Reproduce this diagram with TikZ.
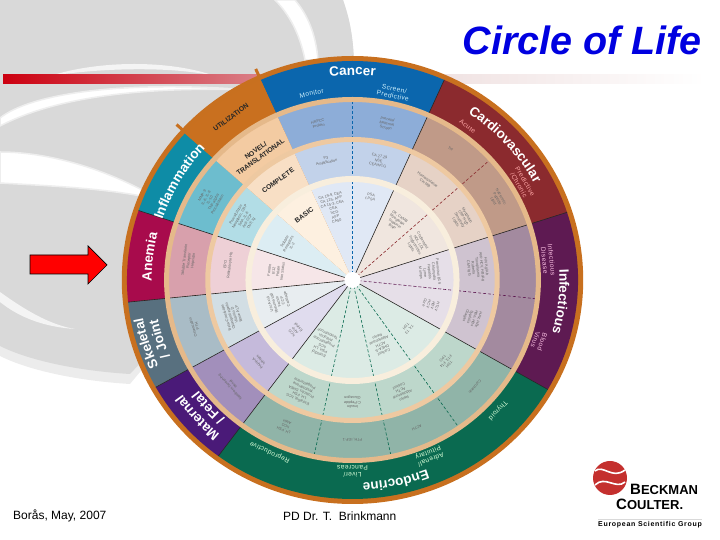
\documentclass[tikz,border=0pt]{standalone}
\usepackage{fontspec}
\setmainfont{Liberation Sans}
\usetikzlibrary{decorations.text}

% sector colours: band, outer ring, middle ring, inner ring
\newcommand{\lifeColors}[5]{%
    \definecolor{#1Band}{HTML}{#2}%
    \definecolor{#1Outer}{HTML}{#3}%
    \definecolor{#1Middle}{HTML}{#4}%
    \definecolor{#1Inner}{HTML}{#5}%
}
\lifeColors{cancer}{0B66AD}{8DADD8}{C2D2EA}{E0E8F5}
\lifeColors{cardio}{8B2A2E}{C09A88}{E6D2C6}{F0E6DF}
\lifeColors{infect}{5E1A52}{A38A9F}{CFC3D0}{E6DFE8}
\lifeColors{endo}{0A6A50}{90B4A8}{BDD7CB}{DCEBE5}
\lifeColors{fetal}{4A1A78}{A28FBB}{C5BADB}{E0DCEE}
\lifeColors{joint}{58707F}{A9BCC6}{D2DEE4}{E8EDF0}
\lifeColors{anemia}{A80B4C}{D8A0AC}{EED0D6}{F6E6E8}
\lifeColors{inflam}{0E8CA6}{6DBDCE}{B2DDE6}{DCEDF3}
\lifeColors{util}{C9701F}{F3CBA2}{F8DFC5}{FDF0E0}
\definecolor{lifeRimColor}{HTML}{C8701F}
\definecolor{lifeGreyColor}{HTML}{D9D9D9}
\definecolor{lifeBarLeft}{HTML}{CC0010}
\definecolor{lifeBarMid}{HTML}{DA8088}
\definecolor{lifeBarPale}{HTML}{F0E2E2}
\definecolor{lifeLogoRed}{HTML}{C4302E}

\newcommand{\lifeSector}[5]{%
    \fill[#5] (#1:#3) arc[start angle=#1, end angle=#2, radius=#3]
        -- (#2:#4) arc[start angle=#2, end angle=#1, radius=#4] -- cycle;
}
\newcommand{\lifeBandLabel}[3]{%
    \path[decorate, decoration={text along path, text align=center, text color=white,
        text={|\fontsize{13.5}{14}\bfseries|#3}}]
        (#1+45:#2) arc[start angle=#1+45, end angle=#1-45, radius=#2];
}

\begin{document}
\begin{tikzpicture}[
    x=1pt, y=1pt,
    lifeSolidStyle/.style={black!85, line width=0.6pt},
    lifeDashStyle/.style={line width=0.6pt, dash pattern=on 3pt off 2pt},
    lifeSubStyle/.style={font=\fontsize{6.6}{7.2}\selectfont\addfontfeature{LetterSpace=6}, align=center, inner sep=0pt},
    lifeCapsStyle/.style={font=\fontsize{6.8}{8}\selectfont\bfseries, align=center, inner sep=0pt, text=black!85},
    lifeCellStyle/.style={font=\fontsize{3.8}{4.4}\selectfont, align=center, inner sep=0pt, text=black!60},
    lifeStreakStyle/.style={fill=white, draw=white!55!lifeGreyColor, line width=1.5pt},
]
    \useasboundingbox (0,0) rectangle (720,540);

    % --- background ---
    \begin{scope}[shift={(0,540)}, yscale=-1]
        \fill[white!50!lifeGreyColor] (0,0) -- (343,0)
            .. controls (350,20) and (354,40) .. (354,70) -- (200,300) -- (130,384)
            .. controls (80,381) and (30,371) .. (0,356) -- cycle;
        \fill[lifeGreyColor] (0,0) -- (343,0)
            .. controls (350,20) and (354,40) .. (354,70) -- (200,300) -- (130,374)
            .. controls (80,371) and (30,361) .. (0,346) -- cycle;
        % white streaks
        \fill[lifeStreakStyle] (295,0) .. controls (308,15) and (316,35) .. (318,60)
            -- (305,60) .. controls (300,35) and (290,15) .. (275,0) -- cycle;
        \fill[lifeStreakStyle, fill=white!70!lifeGreyColor, draw=none] (50,76) .. controls (100,60) and (170,60) .. (215,76)
            .. controls (170,66) and (100,68) .. (50,76) -- cycle;
        \fill[lifeStreakStyle] (0,118) .. controls (30,94) and (120,80) .. (250,90)
            .. controls (130,86) and (50,100) .. (0,126) -- cycle;
        \draw[lifeStreakStyle] (0,152) .. controls (50,152) and (110,170) .. (160,200)
            .. controls (110,188) and (50,186) .. (0,183) -- cycle;
        \draw[lifeStreakStyle, fill=white!70!lifeGreyColor, draw=none] (0,292) .. controls (25,310) and (50,325) .. (75,329)
            .. controls (45,327) and (20,318) .. (0,302) -- cycle;
    \end{scope}

    % --- red bar ---
    \shade[left color=lifeBarLeft, right color=lifeBarMid] (3,456) rectangle (262,465);
    \shade[left color=lifeBarPale, right color=white] (440,456) rectangle (705,465);

    \node[anchor=east, font=\fontsize{39.5}{40}\selectfont\bfseries\itshape, text={rgb,255:red,0;green,0;blue,224}, inner sep=0pt]
        (lifeTitle) at (702,500) {Circle of Life};

    % --- wheel ---
    \begin{scope}[shift={(352.5,260)}, xscale=1.03]
        \fill[lifeRimColor] (0,0) circle[radius=224];
        \foreach \lifeTick in {114,137.7}
            \draw[lifeRimColor, line width=3pt] (\lifeTick:215) -- (\lifeTick:231);

        \foreach \lifeName/\angA/\angB in {cancer/66/114, cardio/18/66, infect/-30/18,
            endo/233.5/330, fetal/209.3/233.5, joint/185.8/209.3, anemia/161.5/185.8,
            inflam/138/161.5, util/114/138} {
            \lifeSector{\angA}{\angB}{219}{180}{\lifeName Band}
            \lifeSector{\angA}{\angB}{181}{140}{\lifeName Outer}
            \lifeSector{\angA}{\angB}{141}{101}{\lifeName Middle}
            \lifeSector{\angA}{\angB}{102}{0.01}{\lifeName Inner}
        }

        % solid boundaries
        \foreach \angA in {66,18,-30,233.5,209.3,185.8,161.5}
            \draw[lifeSolidStyle] (\angA:6) -- (\angA:219);
        % dashed boundaries
        \foreach \angA/\lifeName in {90/cancer, 42/cardio, -6/infect, -55/endo, -78/endo, -102/endo}
            \draw[lifeDashStyle, \lifeName Band] (\angA:6) -- (\angA:178);

        % separators
        \draw[line width=5pt, color={rgb,255:red,229;green,185;blue,138}] (0,0) circle[radius=180.5];
        \draw[line width=5pt, color={rgb,255:red,238;green,201;blue,161}] (0,0) circle[radius=140.5];
        \draw[line width=6pt, color={rgb,255:red,248;green,238;blue,221}] (0,0) circle[radius=101];
        \fill[white] (0,0) circle[radius=8];

        % band titles
        \lifeBandLabel{90}{205}{Cancer}
        \lifeBandLabel{42}{201}{Cardiovascular}
        \lifeBandLabel{-6}{201}{Infectious}
        \lifeBandLabel{-78}{203}{Endocrine}
        \lifeBandLabel{222}{201}{Maternal}
        \lifeBandLabel{222}{186}{/ Fetal}
        \lifeBandLabel{197.3}{207}{Skeletal}
        \lifeBandLabel{197.3}{193}{/ Joint}
        \lifeBandLabel{173.4}{195}{Anemia}
        \lifeBandLabel{150}{194}{Inflammation}

        % band sub labels
        \foreach \angA/\lifeRad/\lifeCol/\lifeText [count=\i] in {
            102/191/cyan!20!white/{Monitor},
            78/192/cyan!20!white/{Screen/\\Predictive},
            54/190/red!35!white/{Acute},
            30.5/191/red!35!white/{Predictive\\/Chronic},
            6/191/magenta!25!white/{Infectious\\Disease},
            -18.6/191/magenta!25!white/{Blood\\Virus},
            -42.7/192/green!15!white/{Thyroid},
            -67/191/green!15!white/{Adrenal/\\Pituitary},
            -90/191/green!15!white/{Liver/\\Pancreas},
            245/190/green!15!white/{Reproductive}} {
            \node[lifeSubStyle, text=\lifeCol, rotate=\angA-90] (sub\i) at (\angA:\lifeRad) {\lifeText};
        }

        % translational column
        \foreach \lifeRad/\lifeText [count=\i] in {
            201/{UTILIZATION}, 156/{NOVEL/\\TRANSLATIONAL}, 123/{COMPLETE}, 80/{BASIC}} {
            \node[lifeCapsStyle, rotate=36] (caps\i) at (126:\lifeRad) {\lifeText};
        }

        % cell texts
        \foreach \angA/\lifeRad/\lifeText [count=\i] in {
            102/160/{HNPCC\\Protein},
            78/160/{Prenatal\\Maternal\\Screen},
            102/122/{P3\\Amplification},
            78/122/{CA 27.29\\NSE\\CEA/HCG},
            104.5/74/{CA 19-9, CEA\\CA 125, AFP\\CA 15-3, CEA\\CEA\\hCG\\AFP\\CA50},
            78/85/{PSA\\f.PSA},
            54/162/{TnI},
            30/162/{Natriuretic\\Peptide\\Lipid},
            54/122/{Homocysteine\\CK-MB},
            30/122/{Myoglobin\\CRP High\\Sensitivity\\Lipids},
            54/72/{CK, CKMB\\Myoglobin\\Troponin\\BNP},
            30/72/{Cholesterol\\HDL, LDL\\Triglycerides\\Lipids},
            6/122/{HIV Ag/Ab\\Anti-HCV, HBsAg\\Toxoplasma\\Rubella\\CMV IgG},
            -18/122/{HAV, HBc\\HBe, HBs\\Syphilis\\Chagas},
            6/75/{Parvovirus B19\\Chlamydia\\Hepatitis\\Lyme\\Mumps},
            -18/80/{HTLV\\HBV\\HCV\\Core},
            -42/160/{Calcitonin},
            -67/160/{ACTH},
            -90/160/{PTH, IGF-1},
            -114/160/{LH, FSH\\hCG\\AMH},
            -42/122/{TSH\\FT3, FT4\\TPO},
            -67/122/{Renin\\Aldosterone\\ACTH\\Cortisol},
            -90/122/{Insulin\\C-Peptide\\Glucagon},
            -114/122/{Estradiol, hCG\\LH, FSH\\Prolactin, DHEA\\Testosterone\\Progesterone},
            -42/72/{T4, T3\\TSH},
            -67/70/{Cortisol\\DHEA-S\\ACTH\\Aldosterone\\Renin},
            -114/70/{Estradiol\\FSH, LH\\hCG\\Progesterone\\Prolactin\\Testosterone},
            222/158/{Newborn Screening\\Panel},
            222/122/{PAPP-A\\Inhibin},
            222/75/{hCG\\AFP\\Estriol},
            197/160/{Osteocalcin\\PTH},
            197/122/{Beta-CrossLaps\\Osteoprotegerin\\Vitamin D\\Bone ALP},
            197/75/{Uric Acid\\Rheumatoid\\Factor\\CCP\\Cartilage},
            173/160/{Soluble Transferrin\\Receptor\\Hepcidin},
            173/122/{EPO\\Reticulocyte Hb},
            173/75/{Ferritin\\B12\\Folate\\Iron Status},
            150/160/{MMP-9\\IL-6, IL-8\\IL-10\\TNF-alpha\\Procalcitonin},
            150/122/{Procalcitonin\\Neopterin, CRP\\SAA, IL-6\\Anti-CCP\\TNF, Ig},
            150/72/{Soluble\\Receptors\\IL-2}} {
            \node[lifeCellStyle, rotate=\angA-90] (cell\i) at (\angA:\lifeRad) {\lifeText};
        }
    \end{scope}

    % --- arrow ---
    \draw[fill=red, line width=0.7pt] (30,285) -- (88,285) -- (88,294) -- (107,275)
        -- (88,256) -- (88,266) -- (30,266) -- cycle;

    % --- footer ---
    \node[anchor=west, font=\fontsize{12}{12}\selectfont, inner sep=0pt] (lifeFootPlace) at (13,24) {Borås, May, 2007};
    \node[anchor=west, font=\fontsize{12}{12}\selectfont, inner sep=0pt] (lifeFootName) at (283,24) {PD Dr. T.\ \ Brinkmann};

    % --- logo ---
    \fill[lifeLogoRed] (610,62) circle[radius=17];
    \draw[white, line width=1.6pt] (595,69) .. controls (603,76) and (612,60) .. (625,70);
    \draw[white, line width=1.6pt] (595,55) .. controls (605,65) and (616,50) .. (625,58);
    \node[anchor=west, font=\bfseries, inner sep=0pt] (logoTop) at (630,51) {\fontsize{15}{15}\selectfont B\fontsize{13}{15}\selectfont ECKMAN};
    \node[anchor=west, font=\bfseries, inner sep=0pt] (logoBot) at (616,36) {\fontsize{15}{15}\selectfont C\fontsize{13}{15}\selectfont OULTER.};
    \draw[black!15, line width=0.5pt] (598,21) -- (702,21);
    \node[anchor=west, font=\fontsize{7}{8}\selectfont\bfseries, inner sep=0pt] (logoSub) at (598,15) {\addfontfeature{LetterSpace=10}European Scientific Group};
\end{tikzpicture}
\end{document}
